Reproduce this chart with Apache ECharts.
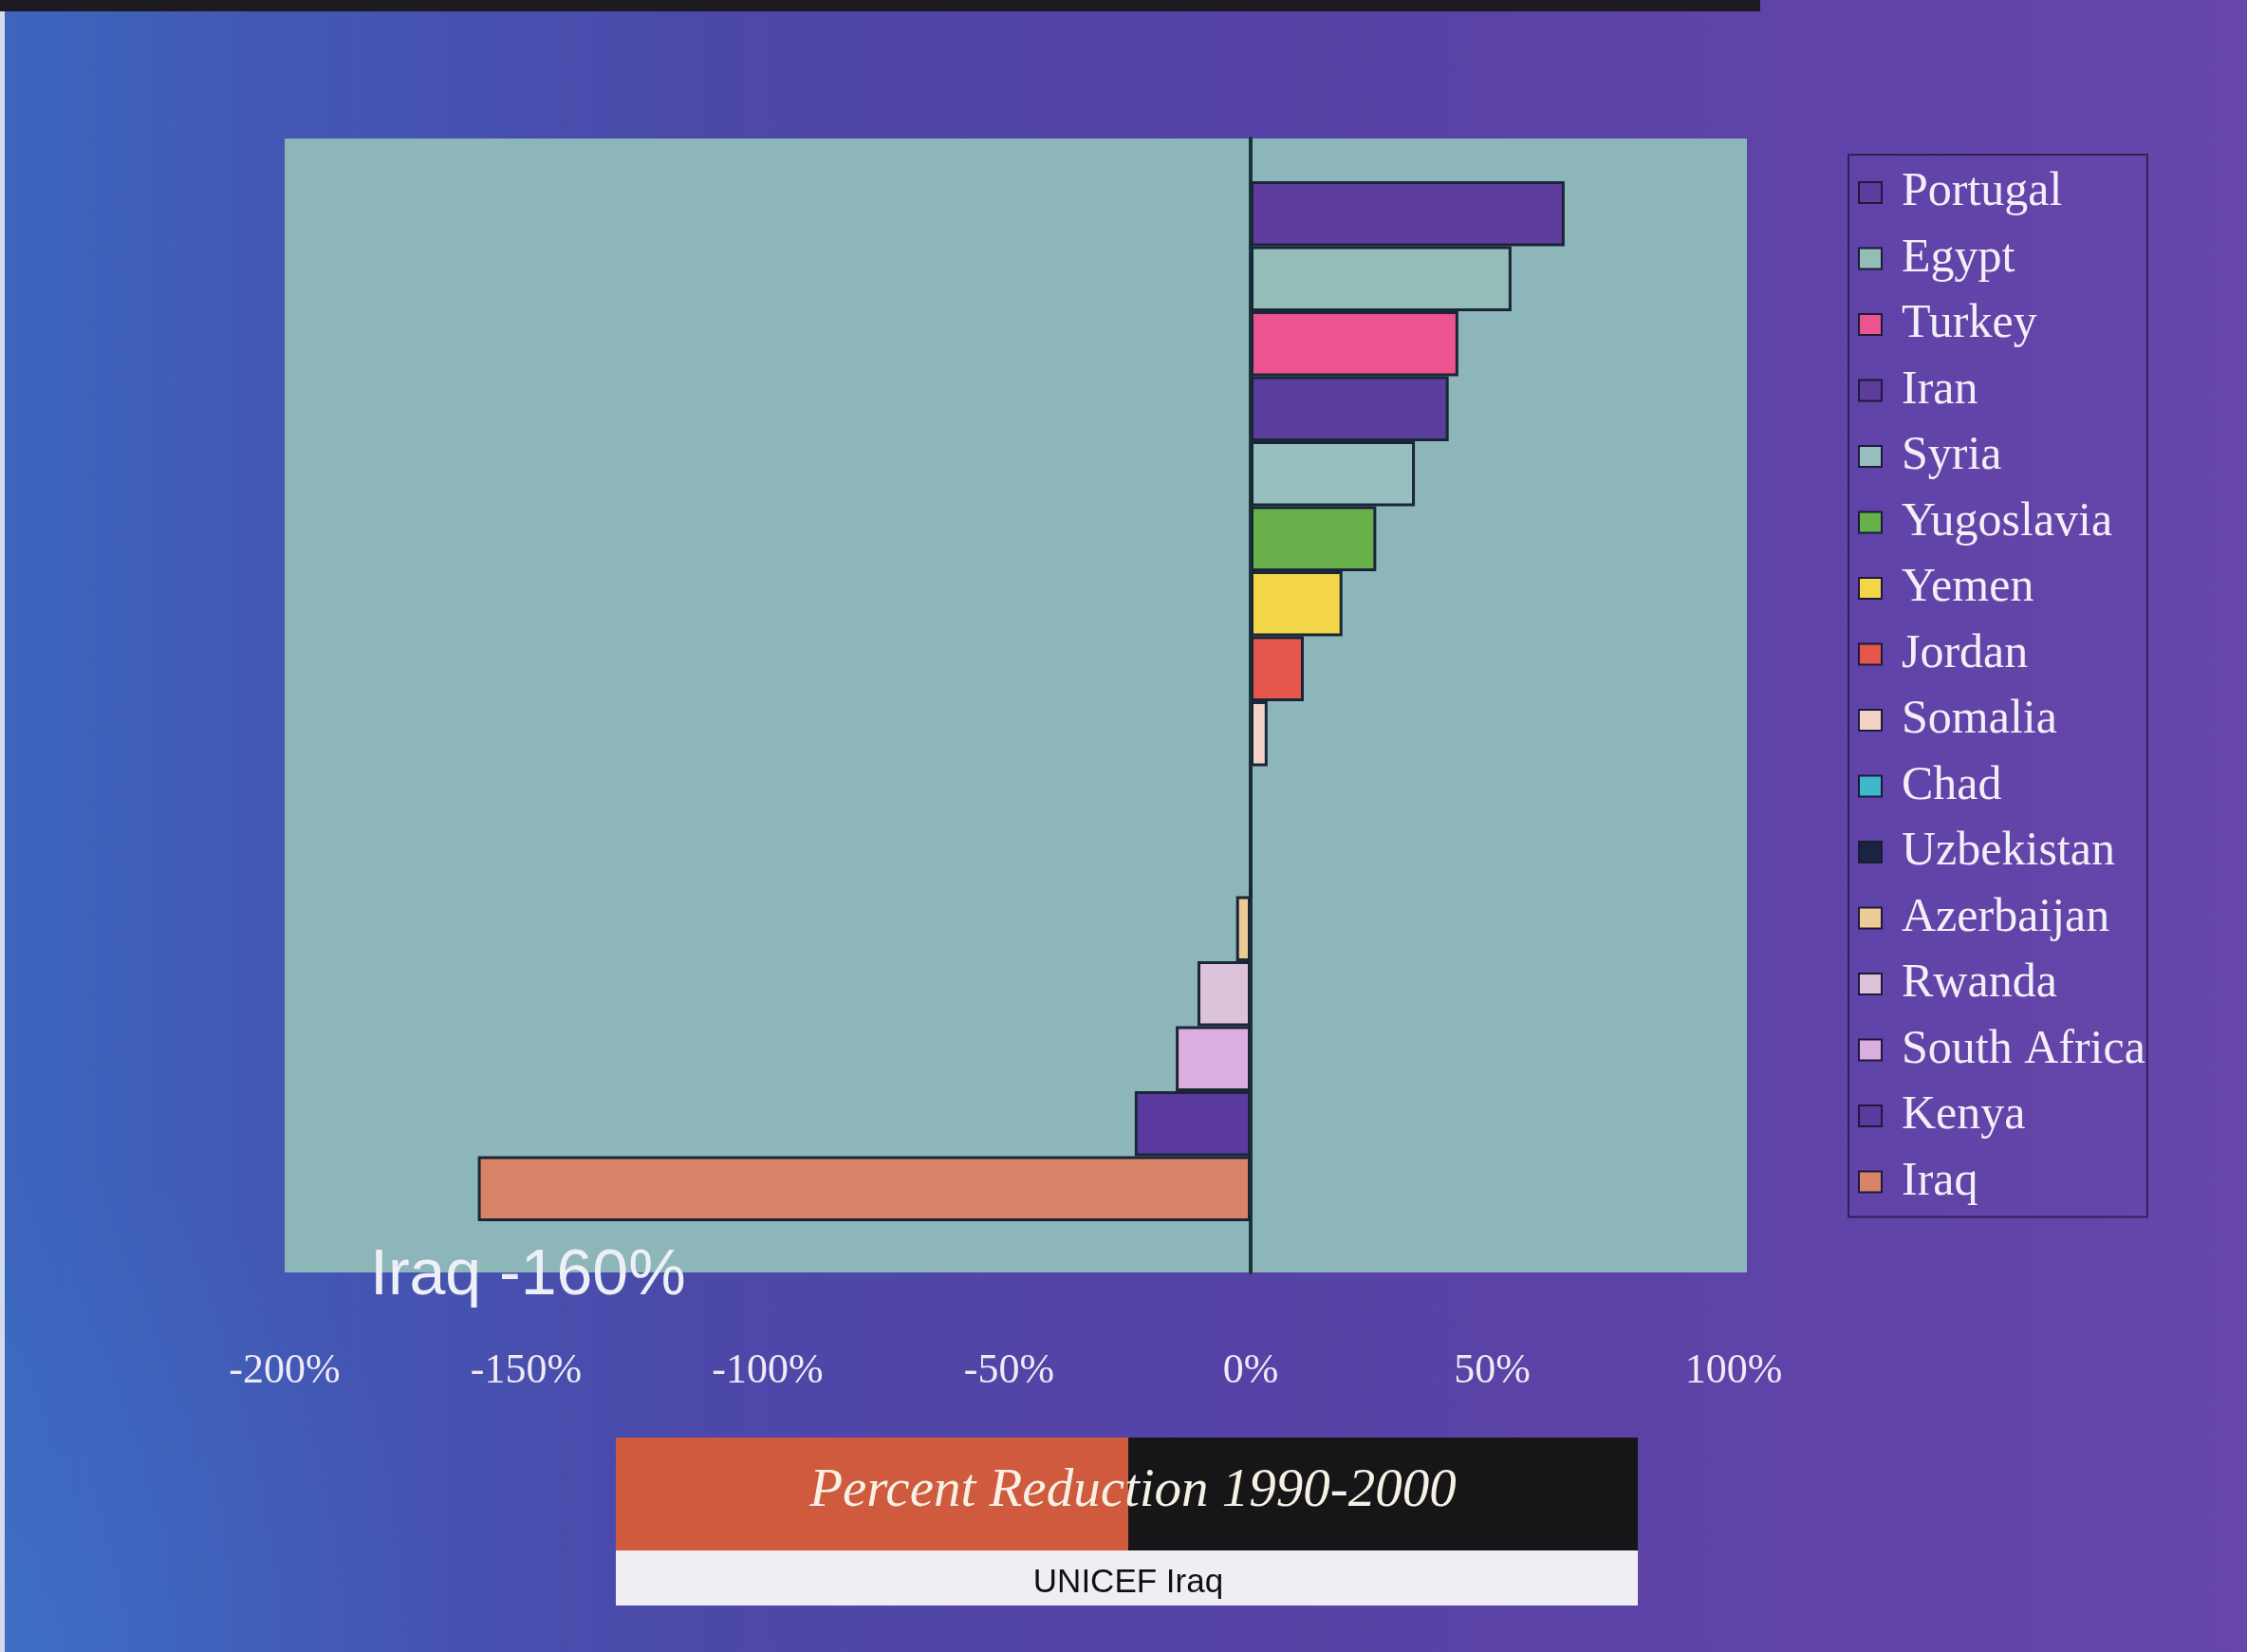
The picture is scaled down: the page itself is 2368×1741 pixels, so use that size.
<!DOCTYPE html>
<html>
<head>
<meta charset="utf-8">
<title>Percent Reduction 1990-2000</title>
<script src="https://cdn.jsdelivr.net/npm/echarts@6/dist/echarts.min.js"></script>
<style>
  html, body { margin: 0; padding: 0; }
  body {
    width: 2368px;
    height: 1741px;
    background:
      radial-gradient(ellipse 20% 30% at 0% 100%, rgba(62, 120, 205, 0.45), rgba(62, 120, 205, 0) 100%),
      linear-gradient(90deg, #3d66be 0%, #4258b4 12%, #4c48a9 32%, #5642a6 55%, #5f43a8 80%, #6646aa 100%);
  }
  #chart { width: 2368px; height: 1741px; }
</style>
</head>
<body>
<div id="chart"></div>
<script>
// data
const countries = [
  'Portugal', 'Egypt', 'Turkey', 'Iran', 'Syria', 'Yugoslavia', 'Yemen', 'Jordan',
  'Somalia', 'Chad', 'Uzbekistan', 'Azerbaijan', 'Rwanda', 'South Africa', 'Kenya', 'Iraq'
]
const reduction = [65, 54, 43, 41, 34, 26, 19, 11, 3.5, 0, 0, -3, -11, -15.5, -24, -160]
const barColors = [
  '#5e3d9e', '#94bdb8', '#ec5490', '#5b3d9c', '#97bfc0', '#68b04a', '#f2d648', '#e4574a',
  '#f3d3c6', '#3fb8cc', '#1b2342', '#eccb96', '#dcc3da', '#dcaee0', '#5b3aa0', '#d98468'
]
const xTicks = [-200, -150, -100, -50, 0, 50, 100]

const titleText = 'Percent Reduction 1990-2000'
const sourceText = 'UNICEF Iraq'

const panelColor = '#8cb6b9'
const edgeColor = '#1a2638'

const chart = echarts.init(document.getElementById('chart'))

// one series per country, all in one stack so each fills its own row
const series = countries.map((name, i) => ({
  name,
  type: 'bar',
  xAxisIndex: 1,
  yAxisIndex: 1,
  stack: 'total',
  barWidth: '100%',
  barCategoryGap: '0%',
  data: countries.map((c, j) => (j === i ? reduction[i] : '-')),
  itemStyle: { color: barColors[i], borderColor: edgeColor, borderWidth: 3 }
}))

const last = countries.length - 1

chart.setOption({
  animation: false,
  backgroundColor: 'transparent',
  grid: [
    // the teal panel, a bit wider than the value range, carrying the zero line
    { left: 300, top: 146, width: 1541, height: 1195, show: true, backgroundColor: panelColor, borderWidth: 0 },
    // the bars and the tick labels
    { left: 300, top: 191, width: 1527, height: 1096 }
  ],
  xAxis: [
    {
      gridIndex: 0,
      type: 'value',
      min: xTicks[0],
      max: 102.7,
      show: false
    },
    {
      gridIndex: 1,
      type: 'value',
      min: xTicks[0],
      max: xTicks[xTicks.length - 1],
      interval: xTicks[1] - xTicks[0],
      axisLine: { show: false },
      axisTick: { show: false },
      splitLine: { show: false },
      axisLabel: {
        margin: 136,
        color: '#efeaf6',
        fontFamily: 'Liberation Serif',
        fontSize: 44,
        formatter: '{value}%'
      }
    }
  ],
  yAxis: [
    {
      gridIndex: 0,
      type: 'value',
      min: 0,
      max: 1,
      axisLine: { show: true, onZero: true, lineStyle: { color: '#173638', width: 4 } },
      axisTick: { show: false },
      axisLabel: { show: false },
      splitLine: { show: false }
    },
    {
      gridIndex: 1,
      type: 'category',
      data: countries,
      inverse: true,
      show: false
    }
  ],
  legend: {
    orient: 'vertical',
    left: 1948,
    top: 163,
    icon: 'rect',
    itemWidth: 24,
    itemHeight: 22,
    itemGap: 19.5,
    padding: [15, 2, 12, 10],
    borderColor: '#2a2456',
    borderWidth: 2,
    itemStyle: { borderColor: '#1c1a38', borderWidth: 2 },
    textStyle: {
      color: '#f3eff8',
      fontFamily: 'Liberation Serif',
      fontSize: 50,
      lineHeight: 50,
      padding: [0, 0, 0, 16]
    },
    data: countries
  },
  graphic: [
    { type: 'rect', shape: { x: 0, y: 0, width: 1855, height: 12 }, style: { fill: '#1e1a22' } },
    { type: 'rect', shape: { x: 0, y: 12, width: 5, height: 1729 }, style: { fill: '#d4dcec' } },
    { type: 'rect', shape: { x: 649, y: 1515, width: 540, height: 119 }, style: { fill: '#cf5a3e' } },
    { type: 'rect', shape: { x: 1189, y: 1515, width: 537, height: 119 }, style: { fill: '#161618' } },
    { type: 'rect', shape: { x: 649, y: 1634, width: 1077, height: 58 }, style: { fill: '#f0eef4' } },
    {
      type: 'text', x: 1194, y: 1572, z: 10,
      style: {
        text: titleText, fill: '#f6f1e4', fontFamily: 'Liberation Serif',
        fontStyle: 'italic', fontSize: 57, align: 'center', verticalAlign: 'middle'
      }
    },
    {
      type: 'text', x: 1189, y: 1668, z: 10,
      style: {
        text: sourceText, fill: '#111111', fontFamily: 'Liberation Sans',
        fontSize: 35, align: 'center', verticalAlign: 'middle'
      }
    },
    {
      type: 'text', x: 390, y: 1345, z: 10,
      style: {
        text: countries[last] + ' ' + reduction[last] + '%', fill: '#eef0f8',
        fontFamily: 'Liberation Sans', fontSize: 68, align: 'left', verticalAlign: 'middle'
      }
    }
  ],
  series
})

window.addEventListener('resize', () => chart.resize())
</script>
</body>
</html>
